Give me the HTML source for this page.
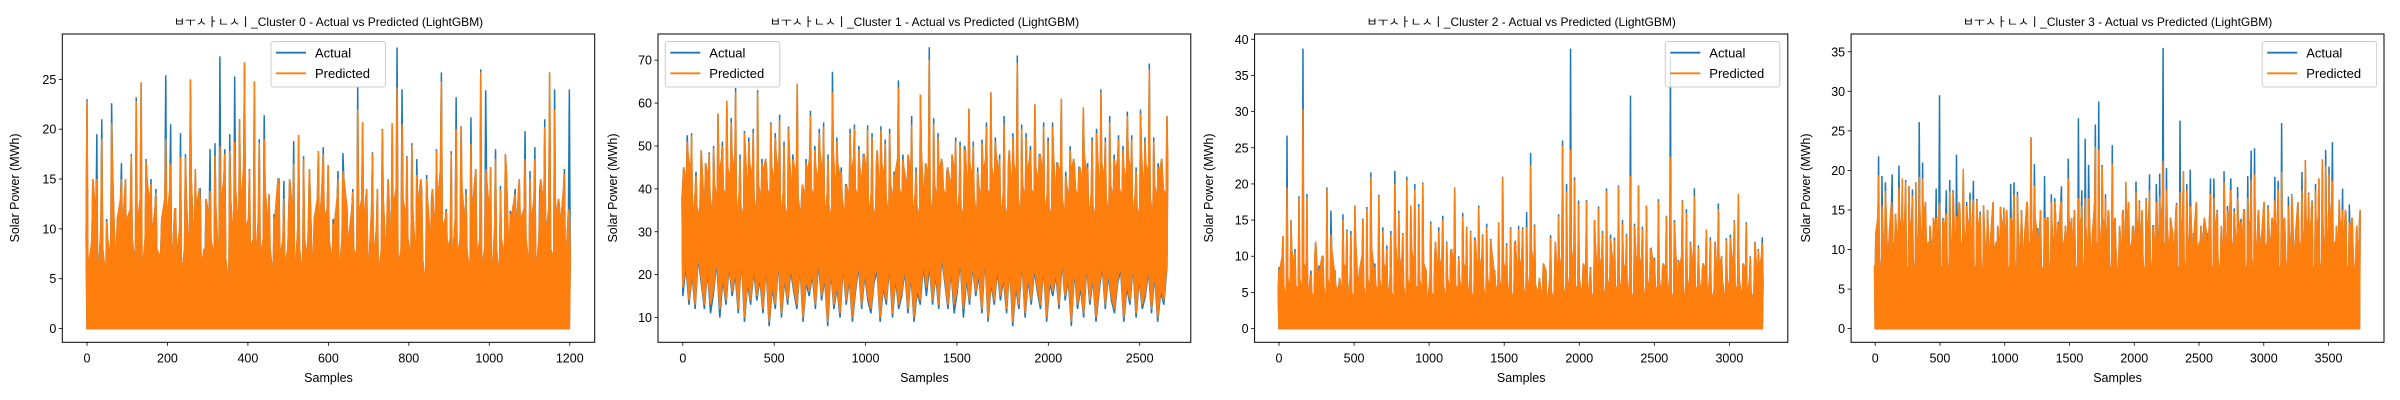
<!DOCTYPE html>
<html><head><meta charset="utf-8">
<style>
html,body{margin:0;padding:0;background:#fff;}
svg{display:block;font-family:"Liberation Sans","DejaVu Sans","Noto Sans CJK KR",sans-serif;}
</style></head>
<body>
<svg id="fig" width="2400" height="400" viewBox="0 0 2400 400" xmlns="http://www.w3.org/2000/svg"></svg>
<script>
// ---- Cluster 0 data ----
const c0ActualPeaks=[23,9,19.5,21,11,22.6,8.5,16.6,7,17.5,23.2,24.7,17,15,14,8,25.4,20.5,12,19.6,17.5,25,16,14,7,18,18.6,27.3,18,19.5,25.3,21,26.7,16,24.8,19,21.4,13.5,11.5,15,14.8,12,18.8,19.4,17.3,11,7,17.8,18.2,16.4,11,15.8,17.6,7,14,24.3,20.7,8,17.7,14,20,12,20.6,28.2,24,17.3,18.6,17,14,15.4,13,18,25.7,12,17.8,23.2,20.3,14,21.2,16,26,23.9,16.2,18,14.3,17.5,11.8,14,11,19.8,15.8,18.2,14,21,25.7,24,12,16,24];
const c0PredPeaks=[22.8,9,15,19,10.7,20.6,8,15,6,17.3,22.8,24.7,16.8,14.5,13.6,7.8,19,16.5,12,17.2,17.2,25,16,12.8,5.5,13.8,17.3,18.3,17.5,17.8,18.7,20.9,26.7,15.9,24.8,18.6,19,13.5,11,13.8,13,11.5,16.5,19.4,17,10.8,7.2,17.8,17.5,16.4,10.5,15,15.8,7,13.7,22,20.7,8,17.6,14,19.9,12,20.6,24.2,20.5,17.2,18.4,15.4,13.5,15,12.5,17.8,24.8,11.7,17.5,20,20.3,13.5,18.5,16,25.7,16,16.2,17,14,17.5,11.5,13.5,11,17,15,17,12,20.2,25.7,22,12,15.5,11.3];
const c0Dips=[9,6,12,8,15,7,11,4,13,10,8,14,5,9,12,7,16,10,5,11,8,13,9,6,15,11,7,12,9,14,6,10,8,13,5,11,9,15,7,12];
const c0Lows=[0];
// ---- Cluster 1 data ----
const c1ActualPeaks=[41,52.5,53,44,40,38,48.5,50,57.5,51,60.5,56.5,63.5,48,53.5,52,54,63,47,45,55.5,53,57.3,51,54.5,48,64.5,38,47,58.2,50,54,55.5,48,67.3,52,45,41,54,55,50,48,54.8,53,46,54.6,51.5,54,44,65.3,48,40,57,45,62,42,73,56.5,53,45,44,38,52,51,50,58.7,51,45,51.5,55.5,62.5,52,48,57,46,53,71.1,55,53,50,59.7,48,55.5,52,55.5,46,61,44,50,45,45,59,46,52,54,63.2,52,57,48,52.5,50,58,52.5,45,58.5,52,69.2,52,46,43,57];
const c1PredPeaks=[40,51,52.5,43,39,37,48,49.5,57.5,50,60.5,55.5,62.5,47,53,51,53,62.5,46,44,55,52,56,50,54,47,64.5,37,46,57,49,53,54.5,47,62.5,51,44,40,53,54,49,47,53.8,52,45,53.6,50.5,53,43,63.5,47,39,55,44,62,41,70,55,52,44,43,37,51,50,49,58.7,50,44,50.5,54.5,62.5,51,47,55,45,52,69.3,54,52,49,59.7,47,54.5,51,54.5,45,61,43,49,44,44,59,45,51,53,62.5,51,55.5,47,51.5,49,57,51.5,44,57.5,51,67.8,51,45,42,57];
const c1Dips=[38,45,34,41,48,36,43,32,47,39,36,44,33,49,40,35,46,34,42,38,48,33,41,45,37,43,35,47,40,34];
const c1ActualLows=[15,22,13,20,12,24,18,12,21,11,16,23,10,19,13,22,15,20,11,24,9,18,13,21,14,19,11,22,8,17,12,23,10,19,13,21,16,12,22,9,18,15,20,12,23,14,19,8,21,12,17,10,22,13,19,9,16,22,12,20,14,11,18,21,9,17,13,22,10,19,12,15,21,11,20,9,16,13,22];
const c1PredLows=[17,23,14,21,13,25,19,13,22,13,17,24,12,20,14,23,16,21,12,25,10,19,14,22,15,20,12,23,9,18,13,24,11,20,14,22,17,13,23,10,19,16,21,13,24,15,20,9,22,13,18,11,23,14,20,10,17,23,13,21,15,12,19,22,10,18,14,23,11,20,13,16,22,12,21,10,17,14,23];
// ---- Cluster 2 data ----
const c2ActualPeaks=[8.5,12.8,26.7,15,11,18.3,38.7,18.6,8,10,8.7,10,19.5,16.3,8,6,15.8,13.7,13.5,17,6.8,15.2,16.8,21.6,9,18.5,14,11.5,13.5,21.8,16.3,13.2,21,17,20,17.2,20.2,4,14.8,10,14,15.6,12,10.6,19.5,10,16,14.1,13.5,12.6,17,13,14.5,12.4,8,14.7,21,11.8,14,11.9,14.2,14,16.1,24.3,14.4,5,4.9,2.8,12.9,7,15.8,26,20,38.7,20.9,17.7,5.8,17.8,8.5,15,16.9,13.5,19.4,13,12.6,19.8,15,13.1,32.2,14.5,19.8,14.1,17,11,9.8,17.9,8,15.6,37.6,15,9.5,17.8,16.5,12,19.4,11.5,8,13.7,12.6,6,17.3,6.5,12.5,13,15,18.6,4,14.7,10,7,11,12.6];
const c2PredPeaks=[8,12.8,19.5,15,10.5,18,30.3,18.2,7.5,10,8,10,19.3,13,7.5,5.5,15,13.5,13,17,6.5,15,16.5,20.9,8.5,18.3,13.5,11,13,20,16,13,20.5,17,19.3,16.8,20,4,14.4,9.6,13.5,15,11.8,10.2,19.4,9.7,15.5,14,13.3,12.3,16.7,12.8,14,12.2,7.8,14.7,20.9,11.5,13.8,11.5,13.8,13.8,14,22.6,14.2,5,4.7,2.8,12.5,6.8,15.5,25.3,19,24.7,20.5,17.2,5.5,17.6,8.3,15,16.6,13.2,19,12.5,12.2,19.6,14.5,12.9,21.1,14.2,19.8,13.8,17,10.8,9.5,17.6,7.8,15.5,23.7,14.7,9.2,17.7,16,11.8,18.3,11.2,7.8,13.7,12.2,6,16.5,6.2,12.2,12.6,14.8,18.6,3.8,14.4,9.8,7,10.8,11.8];
const c2Dips=[5,8,3,10,6,12,3,7,9,5,11,4,8,6,12,5,7,10,4,9,6,8,3,11,7,5,9,4,12,6];
const c2Lows=[0];
// ---- Cluster 3 data ----
const c3ActualPeaks=[6,21.8,19.3,18.5,10,19.5,14.5,20.6,17,18.8,18,17.6,18.5,26.1,21,12.2,7,9,17.7,29.5,14,17.5,18.8,17.5,22,15,20.2,16,17.2,18.7,16.4,14.8,15.6,11,9.6,7,8.5,15.4,15.3,13,18.3,18.5,17.3,11,9,15,24.2,20.8,12.7,8,19.3,14,17,16.5,13.5,18,11.5,21.5,14,11,26.6,17.5,24,20.7,10,25.8,28.7,20.7,17,14.3,23.2,10.5,10,14.5,18.5,10,12.7,18.6,16.2,9.7,16.5,19.5,13,18.3,19.6,35.5,20.3,10,9.9,15.9,26.3,19.9,18.3,20.1,12,9.8,10.5,12.8,12,19,19,15,9,19.9,15.5,19,15.2,17.9,13.9,15,19.3,22.5,22.8,14,11.5,10.6,15.6,12,19.2,18.7,26,12,16.7,17,10,12.5,19.8,21.3,17.2,16.2,18.3,19,21.4,22.6,20.5,23.6,9.8,16.3,17.7,14.5,15.7,11,10.5,13.6];
const c3PredPeaks=[6,19.4,15.5,17.4,9.5,14.5,14.5,17.8,19,18.5,18,16.8,18.5,19.2,19,12,6.5,8.8,14,15.9,13.8,14.6,17.3,17.3,14.2,14.8,20.2,15.5,16.2,16.3,16.2,14.5,15.6,10.8,9.4,7,8.3,15.4,15.3,12.8,14,17,16.9,10.5,8.8,15,24.2,18.1,11.8,7.9,14,13.8,16,16,13.3,16,11.3,19,14,10.8,16.5,15.5,16.5,16.5,9.7,23,22.6,20.5,16.5,14,20.8,10.3,9.8,14,18.6,9.8,12,17.3,16,9.5,16.3,17.5,12.6,16,16.7,21.2,17.6,9.8,9.7,15.7,17.3,19.9,17.5,15.5,11.7,9.5,10.3,11.5,11,17,16.5,14.8,8.8,18.5,15,17.5,14.8,16.5,13.5,14.8,16.5,18.8,19.5,13.8,11.3,10.4,15.3,11.8,16.2,17.5,19.8,11.8,15.5,16.9,9.8,12.3,17.5,21.3,17,16,17.5,19,21.4,20.6,19.5,18.7,9.6,16.3,15,14.2,13.5,10.8,10.3,13.6];
const c3Dips=[8,12,6,14,9,11,5,13,10,7,15,9,6,12,8,16,10,5,11,13,7,9,14,6,12,8,10,15,7,11];
const c3Lows=[0];

const panels=[
 {id:0,N:1200,xmin:-61.4,xmax:1262,ymin:-1.38,ymax:29.55,left:62.3,right:594.7,xt:[0,200,400,600,800,1000,1200],yt:[0,5,10,15,20,25],A:c0ActualPeaks,P:c0PredPeaks,D:c0Dips,LA:c0Lows,LP:c0Lows,leg:271,ylx:19},
 {id:1,N:2650,xmin:-135.7,xmax:2779.6,ymin:4.23,ymax:76.1,left:658,right:1190.8,xt:[0,500,1000,1500,2000,2500],yt:[10,20,30,40,50,60,70],A:c1ActualPeaks,P:c1PredPeaks,D:c1Dips,LA:c1ActualLows,LP:c1PredLows,leg:665.3,ylx:617},
 {id:2,N:3220,xmin:-162.5,xmax:3389,ymin:-1.9,ymax:40.73,left:1254.6,right:1787.8,xt:[0,500,1000,1500,2000,2500,3000],yt:[0,5,10,15,20,25,30,35,40],A:c2ActualPeaks,P:c2PredPeaks,D:c2Dips,LA:c2Lows,LP:c2Lows,leg:1665.3,ylx:1213},
 {id:3,N:3740,xmin:-186,xmax:3928,ymin:-1.73,ymax:37.25,left:1851.1,right:2384,xt:[0,500,1000,1500,2000,2500,3000,3500],yt:[0,5,10,15,20,25,30,35],A:c3ActualPeaks,P:c3PredPeaks,D:c3Dips,LA:c3Lows,LP:c3Lows,leg:2262.2,ylx:1810}
];
const TOP=34,BOT=342.3;
const NS='http://www.w3.org/2000/svg';
const fig=document.getElementById('fig');
function mk(tag,attrs,parent){const e=document.createElementNS(NS,tag);for(const k in attrs)e.setAttribute(k,attrs[k]);(parent||fig).appendChild(e);return e;}

panels.forEach(p=>{
  const g=mk('g',{});
  
  
  const sx=v=>p.left+(v-p.xmin)/(p.xmax-p.xmin)*(p.right-p.left);
  const sy=v=>BOT-(v-p.ymin)/(p.ymax-p.ymin)*(BOT-TOP);
  const cid='clip'+p.id;
  const cp=mk('clipPath',{id:cid},g);
  mk('rect',{x:p.left,y:TOP,width:p.right-p.left,height:BOT-TOP},cp);
  function series(peaks,lows,color,name){
    const n=peaks.length;
    const xAt=f=>sx(f/(n-1)*(p.N-1));
    let pts=[];
    for(let i=0;i<n;i++){
      pts.push(xAt(i-0.18)+','+sy(p.D[(i*3)%p.D.length]));
      pts.push(xAt(i)+','+sy(peaks[i]));
      pts.push(xAt(i+0.18)+','+sy(p.D[(i*3+1)%p.D.length]));
    }
    const m=lows.length;
    for(let j=m*Math.ceil(n/m)-1;j>=0;j--){
      const f=j/(m*Math.ceil(n/m)-1)*(n-1);
      pts.push(xAt(f)+','+sy(lows[j%m]));
    }
    const poly=mk('polygon',{points:pts.join(' '),fill:color,stroke:color,'stroke-width':1.5,'stroke-linejoin':'miter','clip-path':'url(#'+cid+')'},g);
    
    
  }
  series(p.A,p.LA,'#1f77b4','actual-series');
  series(p.P,p.LP,'#ff7f0e','predicted-series');
  const frame=mk('rect',{x:p.left,y:TOP,width:p.right-p.left,height:BOT-TOP,fill:'none',stroke:'#000','stroke-width':1},g);
  
  
  p.xt.forEach(t=>{
    const x=sx(t);
    mk('line',{x1:x,x2:x,y1:BOT,y2:BOT+3.5,stroke:'#000','stroke-width':0.8},g);
    const tx=mk('text',{x:x,y:BOT+20,'text-anchor':'middle','font-size':12.5,fill:'#000'},g);
    tx.textContent=t;
    
    
  });
  p.yt.forEach(t=>{
    const y=sy(t);
    mk('line',{x1:p.left-3.5,x2:p.left,y1:y,y2:y,stroke:'#000','stroke-width':0.8},g);
    const tx=mk('text',{x:p.left-6,y:y+4.5,'text-anchor':'end','font-size':12.5,fill:'#000'},g);
    tx.textContent=t;
    
    
  });
  const cx=(p.left+p.right)/2;
  const title=mk('text',{x:cx,y:26,'text-anchor':'middle','font-size':12,fill:'#000'},g);
  title.textContent='ㅂㅜㅅㅏㄴㅅㅣ_Cluster '+p.id+' - Actual vs Predicted (LightGBM)';
  
  
  const xl=mk('text',{x:cx,y:382,'text-anchor':'middle','font-size':12.5,fill:'#000'},g);
  xl.textContent='Samples';
  
  
  const yl=mk('text',{x:p.ylx,y:188,'text-anchor':'middle','font-size':12.5,fill:'#000',transform:'rotate(-90 '+p.ylx+' 188)'},g);
  yl.textContent='Solar Power (MWh)';
  
  
  const lg=mk('g',{},g);
  
  
  mk('rect',{x:p.leg,y:41.5,width:114.5,height:45.5,rx:2.5,fill:'#fff','fill-opacity':0.8,stroke:'#ccc','stroke-width':1},lg);
  [['Actual','#1f77b4',52.7],['Predicted','#ff7f0e',73.3]].forEach(e=>{
    const le=mk('g',{},lg);
    
    
    mk('line',{x1:p.leg+5,x2:p.leg+35,y1:e[2],y2:e[2],stroke:e[1],'stroke-width':1.8},le);
    const t=mk('text',{x:p.leg+44,y:e[2]+4.8,'font-size':13,fill:'#000'},le);
    t.textContent=e[0];
  });
});
</script>
</body></html>
